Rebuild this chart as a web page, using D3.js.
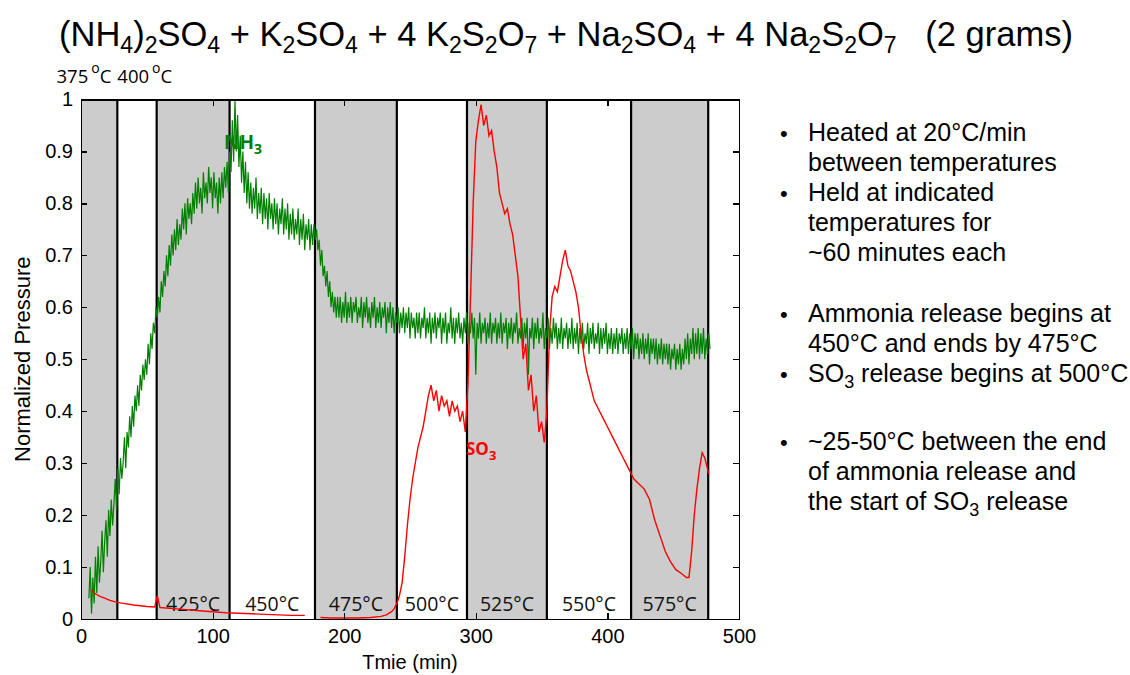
<!DOCTYPE html>
<html>
<head>
<meta charset="utf-8">
<title>NH3 / SO3 release</title>
<script src="https://cdn.jsdelivr.net/npm/d3@7"></script>
<style>
  body { margin: 0; background: #fff; }
  svg { font-family: "Liberation Sans", Arial, sans-serif; }
  .axis path, .axis line { fill: none; stroke: #000; stroke-width: 1.2; shape-rendering: crispEdges; }
  .axis text { font-family: "Liberation Sans", Arial, sans-serif; font-size: 20px; fill: #000; }
  .cal { font-family: "Open Sans", "Noto Sans", sans-serif; }
</style>
</head>
<body>
<script>
// time axis and y axis ticks
var xTicks = [0, 100, 200, 300, 400, 500];
var yTicks = [0, 0.1, 0.2, 0.3, 0.4, 0.5, 0.6, 0.7, 0.8, 0.9, 1];

// temperature step boundaries (min) and shaded intervals
var stepEdges = [27.6, 57.5, 112.9, 177.8, 240, 293.3, 354, 418, 476.6];
var grayBands = [[0, 27.6], [57.5, 112.9], [177.8, 240], [293.3, 354], [418, 476.6]];
var bandLabels = ["425°C", "450°C", "475°C", "500°C", "525°C", "550°C", "575°C"];
var topLabels = ["375", "400"];

// NH3 trace, one reading per minute starting at t = 6
var nh3Start = 6, nh3Step = 1;
var nh3 = [
  0.04, 0.10, 0.01, 0.08, 0.03, 0.12, 0.05, 0.14, 0.07, 0.11,
  0.17, 0.09, 0.15, 0.19, 0.12, 0.21, 0.16, 0.23, 0.18, 0.22,
  0.27, 0.21, 0.29, 0.24, 0.31, 0.27, 0.30, 0.35, 0.29, 0.36,
  0.33, 0.39, 0.35, 0.41, 0.37, 0.43, 0.40, 0.45, 0.41, 0.47,
  0.44, 0.49, 0.46, 0.50, 0.47, 0.53, 0.49, 0.55, 0.52, 0.57,
  0.55, 0.60, 0.58, 0.62, 0.59, 0.65, 0.62, 0.67, 0.64, 0.70,
  0.66, 0.72, 0.68, 0.74, 0.70, 0.75, 0.71, 0.77, 0.72, 0.76,
  0.73, 0.79, 0.75, 0.80, 0.74, 0.81, 0.77, 0.80, 0.76, 0.82,
  0.78, 0.84, 0.79, 0.85, 0.80, 0.83, 0.78, 0.86, 0.81, 0.84,
  0.80, 0.87, 0.82, 0.85, 0.79, 0.86, 0.81, 0.84, 0.78, 0.85,
  0.80, 0.86, 0.81, 0.87, 0.83, 0.88, 0.82, 0.90, 0.86, 0.96,
  0.88, 1.00, 0.90, 0.97, 0.87, 0.93, 0.84, 0.90, 0.82, 0.88,
  0.80, 0.86, 0.79, 0.84, 0.78, 0.83, 0.79, 0.85, 0.77, 0.82,
  0.78, 0.83, 0.76, 0.82, 0.77, 0.81, 0.75, 0.82, 0.77, 0.80,
  0.75, 0.81, 0.76, 0.80, 0.74, 0.79, 0.76, 0.81, 0.74, 0.79,
  0.75, 0.80, 0.73, 0.78, 0.74, 0.79, 0.73, 0.77, 0.74, 0.79,
  0.72, 0.77, 0.73, 0.78, 0.71, 0.76, 0.73, 0.77, 0.71, 0.76,
  0.72, 0.76, 0.73, 0.75, 0.71, 0.73, 0.68, 0.71, 0.66, 0.68,
  0.64, 0.67, 0.62, 0.65, 0.60, 0.63, 0.59, 0.62, 0.58, 0.62,
  0.58, 0.62, 0.57, 0.61, 0.58, 0.63, 0.57, 0.61, 0.58, 0.62,
  0.57, 0.61, 0.59, 0.62, 0.57, 0.60, 0.58, 0.62, 0.56, 0.61,
  0.58, 0.62, 0.57, 0.60, 0.56, 0.61, 0.58, 0.62, 0.56, 0.60,
  0.57, 0.61, 0.56, 0.60, 0.58, 0.61, 0.55, 0.60, 0.57, 0.61,
  0.56, 0.60, 0.55, 0.59, 0.57, 0.60, 0.55, 0.59, 0.56, 0.60,
  0.55, 0.59, 0.56, 0.60, 0.54, 0.59, 0.56, 0.58, 0.54, 0.59,
  0.55, 0.59, 0.54, 0.58, 0.56, 0.60, 0.54, 0.58, 0.55, 0.59,
  0.53, 0.58, 0.55, 0.59, 0.54, 0.58, 0.56, 0.59, 0.53, 0.58,
  0.55, 0.59, 0.53, 0.57, 0.55, 0.60, 0.54, 0.58, 0.53, 0.58,
  0.55, 0.59, 0.54, 0.57, 0.53, 0.58, 0.55, 0.59, 0.53, 0.57,
  0.55, 0.59, 0.54, 0.58, 0.47, 0.57, 0.54, 0.59, 0.53, 0.57,
  0.55, 0.58, 0.53, 0.57, 0.54, 0.59, 0.53, 0.57, 0.55, 0.58,
  0.53, 0.57, 0.54, 0.59, 0.53, 0.57, 0.55, 0.58, 0.52, 0.57,
  0.54, 0.58, 0.53, 0.57, 0.55, 0.59, 0.53, 0.56, 0.54, 0.58,
  0.52, 0.57, 0.54, 0.58, 0.47, 0.56, 0.54, 0.58, 0.52, 0.57,
  0.54, 0.58, 0.53, 0.56, 0.54, 0.59, 0.52, 0.56, 0.54, 0.58,
  0.52, 0.56, 0.53, 0.58, 0.54, 0.57, 0.52, 0.56, 0.53, 0.58,
  0.52, 0.56, 0.54, 0.57, 0.52, 0.56, 0.53, 0.58, 0.52, 0.56,
  0.53, 0.57, 0.51, 0.56, 0.53, 0.57, 0.52, 0.55, 0.53, 0.57,
  0.51, 0.56, 0.53, 0.57, 0.52, 0.55, 0.53, 0.57, 0.51, 0.56,
  0.52, 0.56, 0.53, 0.57, 0.51, 0.55, 0.52, 0.56, 0.51, 0.55,
  0.52, 0.56, 0.51, 0.55, 0.53, 0.56, 0.51, 0.55, 0.52, 0.56,
  0.51, 0.55, 0.52, 0.56, 0.50, 0.55, 0.52, 0.55, 0.50, 0.54,
  0.51, 0.55, 0.50, 0.54, 0.51, 0.55, 0.49, 0.54, 0.51, 0.54,
  0.50, 0.54, 0.49, 0.53, 0.50, 0.54, 0.49, 0.53, 0.50, 0.53,
  0.49, 0.53, 0.48, 0.52, 0.50, 0.53, 0.48, 0.52, 0.49, 0.53,
  0.48, 0.52, 0.49, 0.54, 0.50, 0.55, 0.49, 0.54, 0.51, 0.56,
  0.50, 0.55, 0.51, 0.56, 0.50, 0.55, 0.51, 0.56, 0.50, 0.54,
  0.51, 0.55, 0.52
];

// SO3 trace: time (min) and value, null = gap in the record
var so3Time = [8, 10, 14, 18, 22, 26, 30, 40, 50, 56, 58, 60, 70, 80, 90, 100, 110, 120, 130, 140, 150, 160, 170, 176,
  182, 190, 200, 210, 220, 228, 232, 236, 238, 240, 242, 244, 246, 248, 250, 252, 254, 256, 258, 260, 262, 264, 266,
  268, 270, 272, 274, 276, 278, 280, 282, 284, 286, 288, 290, 292, 294, 296, 298, 300, 302, 304, 306, 308, 310, 312,
  314, 316, 318, 320, 322, 324, 326, 328, 330, 332, 334, 336, 338, 340, 342, 344, 346, 348, 350, 352, 354, 356, 358,
  360, 362, 364, 366, 368, 370, 372, 374, 376, 378, 380, 382, 384, 386, 388, 390, 392, 396, 400, 404, 408, 412, 416,
  420, 424, 428, 432, 436, 440, 444, 448, 452, 456, 460, 462, 464, 466, 468, 470, 472, 474, 476, 477];
var so3 = [0.056, 0.05, 0.044, 0.04, 0.036, 0.033, 0.031, 0.027, 0.024, 0.023, 0.045, 0.022, 0.02, 0.018, 0.016, 0.014,
  0.012, 0.011, 0.01, 0.009, 0.008, 0.007, 0.007, null,
  0.003, 0.002, 0.002, 0.002, 0.003, 0.005, 0.008, 0.014, 0.02, 0.03, 0.045, 0.07, 0.12, 0.18, 0.23, 0.27, 0.30, 0.33,
  0.35, 0.37, 0.40, 0.43, 0.45, 0.42, 0.44, 0.40, 0.43, 0.41, 0.42, 0.39, 0.42, 0.40, 0.41, 0.38, 0.40, 0.36, 0.45,
  0.62, 0.80, 0.92, 0.96, 0.99, 0.95, 0.97, 0.93, 0.94, 0.90, 0.87, 0.82, 0.80, 0.78, 0.79, 0.76, 0.74, 0.70, 0.66,
  0.58, 0.50, 0.53, 0.44, 0.47, 0.40, 0.43, 0.36, 0.38, 0.34, 0.40, 0.55, 0.62, 0.64, 0.63, 0.66, 0.69, 0.71, 0.68,
  0.67, 0.65, 0.63, 0.60, 0.55, 0.51, 0.48, 0.46, 0.44, 0.42, 0.41, 0.39, 0.37, 0.35, 0.33, 0.31, 0.29, 0.27, 0.26,
  0.25, 0.23, 0.19, 0.16, 0.13, 0.11, 0.095, 0.088, 0.08, 0.08, 0.13, 0.20, 0.25, 0.29, 0.32, 0.31, 0.29, 0.28];

// notes on the right
var notes = [
  ["Heated at 20°C/min", "between temperatures"],
  ["Held at indicated", "temperatures for", "~60 minutes each"],
  ["Ammonia release begins at", "450°C and ends by 475°C"],
  ["SO|3| release begins at 500°C"],
  ["~25-50°C between the end", "of ammonia release and", "the start of SO|3| release"]
];
var noteTop = [141, 201, 322, 382, 450];

var width = 1130, height = 675;
var svg = d3.select("body").append("svg")
  .attr("width", width)
  .attr("height", height);

var plot = {left: 81, right: 739, top: 99.5, bottom: 619};

var x = d3.scaleLinear().domain([0, 500]).range([plot.left, plot.right]);
var y = d3.scaleLinear().domain([0, 1]).range([plot.bottom, plot.top]);

// text with subscripts: |..| marks a subscript
function richText(sel, str, base, subSize, shift) {
  var parts = str.split("|");
  parts.forEach(function(p, i) {
    if (p === "") return;
    var isSub = i % 2 === 1;
    sel.append("tspan")
      .attr("dy", isSub ? shift : (i > 0 ? -shift : 0))
      .attr("font-size", isSub ? subSize : base)
      .text(p);
  });
}

var title = svg.append("text")
  .attr("x", 566).attr("y", 46)
  .attr("text-anchor", "middle")
  .style("white-space", "pre")
  .attr("font-size", 34.5);
richText(title, "(NH|4|)|2|SO|4| + K|2|SO|4| + 4 K|2|S|2|O|7| + Na|2|SO|4| + 4 Na|2|S|2|O|7|   (2 grams)", 34.5, 23, 7);

// shaded hold intervals
svg.append("g").selectAll("rect")
  .data(grayBands)
  .enter().append("rect")
  .attr("x", function(d) { return x(d[0]); })
  .attr("y", plot.top)
  .attr("width", function(d) { return x(d[1]) - x(d[0]); })
  .attr("height", plot.bottom - plot.top)
  .attr("fill", "#cccccc");

svg.append("g").selectAll("line")
  .data(stepEdges)
  .enter().append("line")
  .attr("x1", function(d) { return x(d); })
  .attr("x2", function(d) { return x(d); })
  .attr("y1", plot.top)
  .attr("y2", plot.bottom)
  .attr("stroke", "#000")
  .attr("stroke-width", 2.2);

// band labels
svg.append("g").selectAll("text")
  .data(bandLabels)
  .enter().append("text")
  .attr("class", "cal")
  .attr("x", function(d, i) { return (x(stepEdges[i + 1]) + x(stepEdges[i + 2])) / 2; })
  .attr("y", 611)
  .attr("text-anchor", "middle")
  .attr("font-size", 19.5)
  .attr("fill", "#111")
  .text(function(d) { return d; });

// curves
var nh3Line = d3.line()
  .x(function(d, i) { return x(nh3Start + i * nh3Step); })
  .y(function(d) { return y(d); });

svg.append("path")
  .datum(nh3)
  .attr("d", nh3Line)
  .attr("fill", "none")
  .attr("stroke", "#008000")
  .attr("stroke-width", 1.2);

var so3Line = d3.line()
  .defined(function(d) { return d !== null; })
  .x(function(d, i) { return x(so3Time[i]); })
  .y(function(d) { return y(d); });

svg.append("path")
  .datum(so3)
  .attr("d", so3Line)
  .attr("fill", "none")
  .attr("stroke", "#ff0000")
  .attr("stroke-width", 1.4);

// curve labels
var nh3Lab = svg.append("text").attr("class", "cal")
  .attr("x", 224).attr("y", 149)
  .attr("fill", "#008000").attr("font-weight", "bold");
richText(nh3Lab, "NH|3|", 19, 14, 5);

var so3Lab = svg.append("text").attr("class", "cal")
  .attr("x", 466).attr("y", 455)
  .attr("fill", "#ff0000").attr("font-weight", "bold");
richText(so3Lab, "SO|3|", 17, 13, 5);

// axes: ticks point inward on all four sides
var fmt = d3.format("~g");
svg.append("g").attr("class", "axis")
  .attr("transform", "translate(0," + plot.bottom + ")")
  .call(d3.axisBottom(x).tickValues(xTicks).tickSize(-6).tickSizeOuter(0).tickPadding(10));
svg.append("g").attr("class", "axis")
  .attr("transform", "translate(0," + plot.top + ")")
  .call(d3.axisTop(x).tickValues(xTicks).tickSize(-6).tickSizeOuter(0).tickFormat(""));
svg.append("g").attr("class", "axis")
  .attr("transform", "translate(" + plot.left + ",0)")
  .call(d3.axisLeft(y).tickValues(yTicks).tickSize(-6).tickSizeOuter(0).tickPadding(8).tickFormat(fmt));
svg.append("g").attr("class", "axis")
  .attr("transform", "translate(" + plot.right + ",0)")
  .call(d3.axisRight(y).tickValues(yTicks).tickSize(-6).tickSizeOuter(0).tickFormat(""));

svg.append("text")
  .attr("x", (plot.left + plot.right) / 2)
  .attr("y", 669)
  .attr("text-anchor", "middle")
  .attr("font-size", 20)
  .text("Tmie (min)");

svg.append("text")
  .attr("transform", "translate(30," + (plot.top + plot.bottom) / 2 + ") rotate(-90)")
  .attr("text-anchor", "middle")
  .attr("font-size", 22)
  .text("Normalized Pressure");

// 375 / 400 labels above the first two steps
topLabels.forEach(function(t, i) {
  var lab = svg.append("text").attr("class", "cal")
    .attr("x", x(stepEdges[0]) + (i === 0 ? -6 : 0))
    .attr("y", 83)
    .attr("text-anchor", i === 0 ? "end" : "start")
    .attr("font-size", 18.5);
  lab.append("tspan").text(t);
  lab.append("tspan").attr("dx", 3).attr("dy", -10).attr("font-size", 14).text("o");
  lab.append("tspan").attr("dy", 10).text("C");
});

// notes
var ng = svg.append("g");
notes.forEach(function(block, b) {
  ng.append("text")
    .attr("x", 780).attr("y", noteTop[b])
    .attr("font-size", 22)
    .text("•");
  block.forEach(function(line, j) {
    var t = ng.append("text")
      .attr("x", 808)
      .attr("y", noteTop[b] + j * 30);
    richText(t, line, 25, 18, 6);
  });
});
</script>
</body>
</html>
